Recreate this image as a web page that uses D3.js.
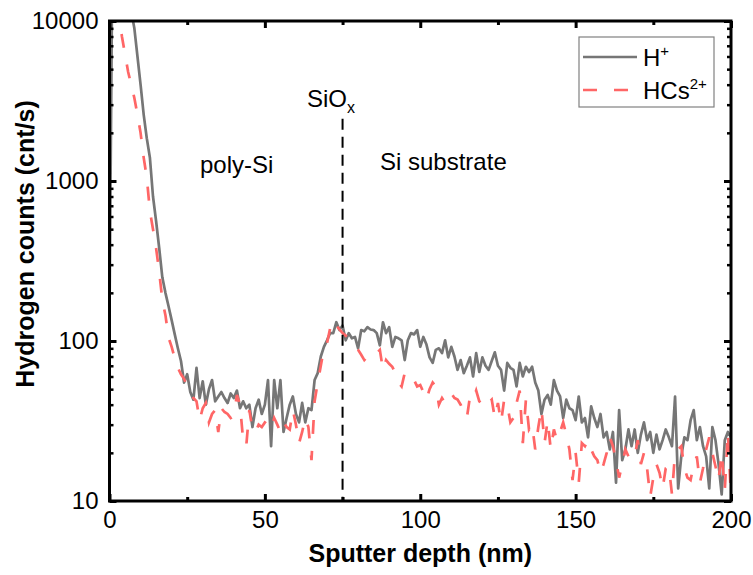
<!DOCTYPE html>
<html><head><meta charset="utf-8">
<script src="https://cdn.jsdelivr.net/npm/d3@7"></script>
<style>
body{margin:0;background:#fff}
svg{display:block}
text{font-family:"Liberation Sans",Arial,sans-serif;fill:#000}
</style>
</head><body><svg id="chart" width="753" height="575"></svg>
<script>
// ---------------- DATA ----------------
const depth = [
0,1,2,3,4,5,6,7,8,9,10,11,12,13,14,15,16,17,18,19,
20,21,22,23,24,25,26,27,28,29,30,31,32,33,34,35,36,37,38,39,
40,41,42,43,44,45,46,47,48,49,50,51,52,53,54,55,56,57,58,59,
60,61,62,63,64,65,66,67,68,69,70,71,72,73,74,75,76,77,78,79,
80,81,82,83,84,85,86,87,88,89,90,91,92,93,94,95,96,97,98,99,
100,101,102,103,104,105,106,107,108,109,110,111,112,113,114,115,116,117,118,119,
120,121,122,123,124,125,126,127,128,129,130,131,132,133,134,135,136,137,138,139,
140,141,142,143,144,145,146,147,148,149,150,151,152,153,154,155,156,157,158,159,
160,161,162,163,164,165,166,167,168,169,170,171,172,173,174,175,176,177,178,179,
180,181,182,183,184,185,186,187,188,189,190,191,192,193,194,195,196,197,198,199,200];

const hPlus = [
145,40000,50000,40000,30000,22000,16000,11500,9000,6000,
4000,2600,1850,1400,800,560,380,250,200,165,
135,110,90,75,55,62,48,43,68,44,
56,40,50,57,42,45,48,44,41,47,
44,49,38,42,38,40,29,38,43,35,
40,57,22,57,38,57,27,33,40,45,
35,31,41,31,38,37,57,63,80,92,
101,112,112,131,117,125,101,112,104,106,
90,117,115,122,118,117,112,94,131,112,
122,92,106,104,101,76,101,112,110,117,
92,106,95,79,73,88,90,84,101,79,
92,80,66,76,63,70,79,60,84,64,
79,70,66,75,85,70,66,49,73,68,
66,52,73,60,69,64,69,55,49,35,
43,46,40,57,49,45,33,43,38,37,
32,45,31,33,25,39,33,29,35,25,
27,21,27,13,37,18,21,28,22,28,
20,26,31,24,27,20,26,21,24,28,
25,22,45,12,19,25,24,32,37,24,
29,22,19,12,29,24,17,11,24,27,
25];

const hcs = [
20000,25000,18000,11000,8000,6200,4800,4000,3300,2600,
2000,1400,1050,650,500,380,270,180,145,105,
92,78,68,62,58,52,47,44,42,32,
38,41,31,35,37,27,38,36,35,33,
34,46,40,24,22,37,28,27,30,29,
31,30,28,33,30,27,31,29,28,37,
30,23,27,33,29,18,42,55,70,90,
97,120,135,125,118,112,108,104,98,92,
88,82,76,80,78,82,84,88,66,76,
72,69,63,55,52,63,64,60,57,52,
53,48,43,50,55,52,40,44,41,45,
47,44,43,40,36,33,45,43,49,42,
40,38,41,43,33,41,31,43,40,31,
33,41,49,23,43,28,30,21,29,38,
23,32,21,28,24,27,31,26,21,13.5,
20,13,23,22,24,21,19,18,15,17,
20,25,22,18,14,17,21,19,18,19,
24,17,20,16,10.6,14,17,15,12,16,
16.5,11,20,21,22,16,14,13.5,17,19,
13,16,21,25,20,16.5,13.5,20,11.7,27,
10.6];

const xTicks = [0, 50, 100, 150, 200];
const xMinorTicks = [25, 75, 125, 175];
const yTicks = [10, 100, 1000, 10000];
const xDomain = [0, 200];
const yDomain = [10, 10000];
const interfaceDepth = 75;       // SiOx interface marker
const interfaceTop = 2450;       // top of marker (counts)

// ---------------- LAYOUT ----------------
const svg = d3.select("#chart");
const L = 109.5, R = 731, T = 21, B = 501;
const x = d3.scaleLinear().domain(xDomain).range([L, R]);
const y = d3.scaleLog().domain(yDomain).range([B, T]);

const grayC = "#767676", redC = "#ff6666";

// clip
svg.append("defs").append("clipPath").attr("id","clip")
  .append("rect").attr("x",L).attr("y",T).attr("width",R-L).attr("height",B-T);

// series lines
const line = arr => d3.line().x((d,i)=>x(depth[i])).y(d=>y(d))(arr);
const plot = svg.append("g").attr("clip-path","url(#clip)");
plot.append("path").attr("d", line(hPlus)).attr("fill","none")
  .attr("stroke",grayC).attr("stroke-width",2.7).attr("stroke-linejoin","round");
plot.append("path").attr("d", line(hcs)).attr("fill","none")
  .attr("stroke",redC).attr("stroke-width",2.7).attr("stroke-dasharray","14,17");

// interface dashed line
svg.append("line").attr("x1",x(interfaceDepth)).attr("x2",x(interfaceDepth))
  .attr("y1",y(interfaceTop)).attr("y2",y(yDomain[0]))
  .attr("stroke","#000").attr("stroke-width",2).attr("stroke-dasharray","11,7");

// axes
const majorLen = 7, minorLen = 4;
function styleAxis(g, w){ g.select(".domain").remove(); g.selectAll("line").attr("stroke","#000").attr("stroke-width",w); }

const xAx = svg.append("g").attr("transform",`translate(0,${B})`)
  .call(d3.axisBottom(x).tickValues(xTicks).tickSize(-majorLen).tickPadding(10).tickFormat(d3.format("d")));
styleAxis(xAx, 3);
xAx.selectAll("text").attr("font-size",24).attr("font-family","Liberation Sans, Arial, sans-serif");
const xAxMin = svg.append("g").attr("transform",`translate(0,${B})`)
  .call(d3.axisBottom(x).tickValues(xMinorTicks).tickSize(-minorLen).tickFormat(""));
styleAxis(xAxMin, 3);

const xTop = svg.append("g").attr("transform",`translate(0,${T})`)
  .call(d3.axisTop(x).tickValues(xTicks).tickSize(-majorLen).tickFormat(""));
styleAxis(xTop, 3);
const xTopMin = svg.append("g").attr("transform",`translate(0,${T})`)
  .call(d3.axisTop(x).tickValues(xMinorTicks).tickSize(-minorLen).tickFormat(""));
styleAxis(xTopMin, 3);

const yMinor = y.ticks().filter(v => !yTicks.includes(v));
const yAx = svg.append("g").attr("transform",`translate(${L},0)`)
  .call(d3.axisLeft(y).tickValues(yTicks).tickSize(-majorLen).tickPadding(11).tickFormat(d3.format("d")));
styleAxis(yAx, 3);
yAx.selectAll("text").attr("font-size",24).attr("font-family","Liberation Sans, Arial, sans-serif");
const yAxMin = svg.append("g").attr("transform",`translate(${L},0)`)
  .call(d3.axisLeft(y).tickValues(yMinor).tickSize(-minorLen).tickFormat(""));
styleAxis(yAxMin, 2.5);

const yR = svg.append("g").attr("transform",`translate(${R},0)`)
  .call(d3.axisRight(y).tickValues(yTicks).tickSize(-majorLen).tickFormat(""));
styleAxis(yR, 3);
const yRMin = svg.append("g").attr("transform",`translate(${R},0)`)
  .call(d3.axisRight(y).tickValues(yMinor).tickSize(-minorLen).tickFormat(""));
styleAxis(yRMin, 2.5);

// frame
svg.append("rect").attr("x",L).attr("y",T).attr("width",R-L).attr("height",B-T)
  .attr("fill","none").attr("stroke","#000").attr("stroke-width",3);

// axis titles
svg.append("text").attr("x",(L+R)/2).attr("y",562).attr("text-anchor","middle")
  .attr("font-size",25).attr("font-weight","bold").text("Sputter depth (nm)");
svg.append("text").attr("transform","translate(34,244) rotate(-90)").attr("text-anchor","middle")
  .attr("font-size",25).attr("font-weight","bold").text("Hydrogen counts (cnt/s)");

// annotations
svg.append("text").attr("x",200).attr("y",173).attr("font-size",24).text("poly-Si");
svg.append("text").attr("x",380).attr("y",170).attr("font-size",24).text("Si substrate");
const sio = svg.append("text").attr("x",307).attr("y",107).attr("font-size",24);
sio.append("tspan").text("SiO");
sio.append("tspan").attr("font-size",16).attr("dy",6).text("x");

// legend
const lg = svg.append("g");
lg.append("rect").attr("x",579).attr("y",37).attr("width",135).attr("height",70)
  .attr("fill","#fff").attr("stroke","#808080").attr("stroke-width",1.2);
lg.append("line").attr("x1",583).attr("x2",637).attr("y1",57).attr("y2",57)
  .attr("stroke",grayC).attr("stroke-width",2.7);
lg.append("line").attr("x1",583).attr("x2",637).attr("y1",90).attr("y2",90)
  .attr("stroke",redC).attr("stroke-width",2.7).attr("stroke-dasharray","14,17");
const t1 = lg.append("text").attr("x",643).attr("y",66).attr("font-size",24);
t1.append("tspan").text("H");
t1.append("tspan").attr("font-size",15).attr("dy",-10).text("+");
const t2 = lg.append("text").attr("x",643).attr("y",99).attr("font-size",24);
t2.append("tspan").text("HCs");
t2.append("tspan").attr("font-size",15).attr("dy",-10).text("2+");
</script>
</body></html>
